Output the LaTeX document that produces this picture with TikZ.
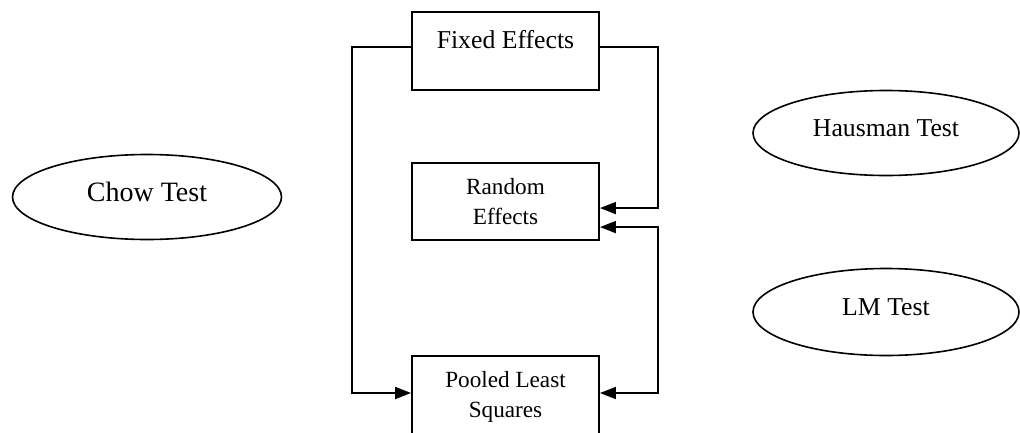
\documentclass[tikz,border=0pt]{standalone}
\usepackage{fontspec}
\setmainfont{Liberation Serif}
\usetikzlibrary{shapes.geometric,arrows.meta,calc}

\tikzset{every picture/.style={line width=0.75pt}}
\tikzset{
  effbox/.style={draw, line width=1.4pt, minimum width=140.25pt, inner sep=0pt, align=center, font=\fontsize{17.4}{22.5}\selectfont},
  testoval/.style={draw, ellipse, line width=1.2pt, inner sep=0pt, text depth=7.5pt, minimum width=199.5pt, minimum height=63.75pt, font=\fontsize{19.3}{23}\selectfont},
  link/.style={line width=1.4pt, -{Triangle[length=12pt,width=9pt]}},
  twolink/.style={line width=1.4pt, {Triangle[length=12pt,width=9pt]}-{Triangle[length=12pt,width=9pt]}},
}

\begin{document}
\begin{tikzpicture}[x=0.75pt,y=0.75pt,yscale=-1,xscale=1]
\useasboundingbox (0,0) rectangle (1020,432);

%Shape: Rectangle [id:fe]
\node [effbox, minimum height=58.5pt] (fe) at (505.5,51) {};
% Text Node
\node [font=\fontsize{19.3}{23}\selectfont] (fetxt) at ($(fe.north)+(0,28)$) {Fixed Effects};
%Shape: Rectangle [id:re]
\node [effbox, minimum height=57.75pt] (re) at (505.5,201.5) {Random\\Effects};
%Shape: Rectangle [id:pls]
\node [effbox, minimum height=61.5pt, anchor=north] (pls) at (505.5,355) {Pooled Least\\Squares};

%Shape: Ellipse [id:chow]
\node [testoval, minimum width=201.75pt, font=\fontsize{21}{25}\selectfont] (chow) at (147,197) {Chow Test};
%Shape: Ellipse [id:haus]
\node [testoval] (haus) at (886,133) {Hausman Test};
%Shape: Ellipse [id:lm]
\node [testoval, minimum height=65.25pt] (lm) at (886,312) {LM Test};

% Connector ends
\coordinate (feL) at ($(fe.north west)+(0,36)$);
\coordinate (feR) at ($(fe.north east)+(0,36)$);
\coordinate (reA) at ($(re.north east)+(0,46)$);
\coordinate (reB) at ($(re.north east)+(0,65)$);
\coordinate (plsL) at ($(pls.north west)+(0,38)$);
\coordinate (plsR) at ($(pls.north east)+(0,38)$);

% Connector
\draw [link] (feL) -- ++(-59,0) |- (plsL);
% Connector
\draw [link] (feR) -- ++(58,0) |- (reA);
% Connector
\draw [twolink] (reB) -- ++(58,0) |- (plsR);

\end{tikzpicture}
\end{document}
